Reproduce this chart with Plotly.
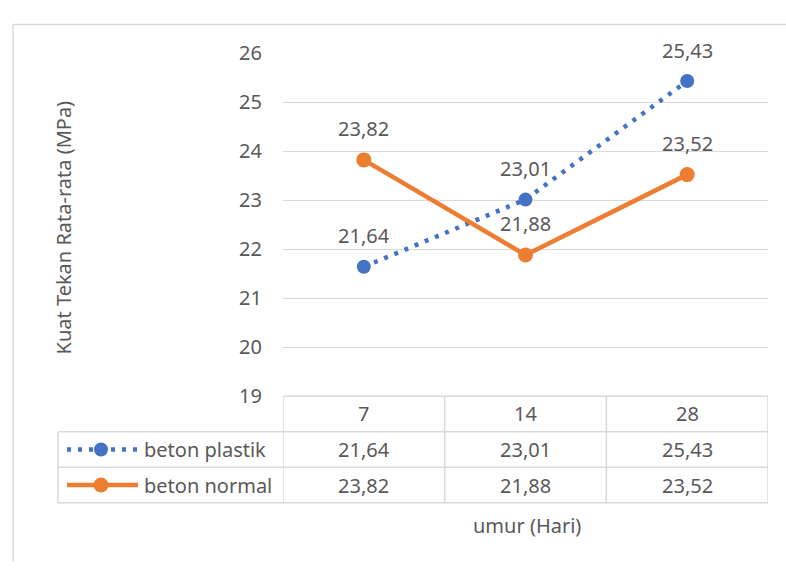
import plotly.graph_objects as go

# Umur benda uji (hari) dan kuat tekan rata-rata (MPa)
umur = ["7", "14", "28"]
beton_plastik = [21.64, 23.01, 25.43]
beton_normal = [23.82, 21.88, 23.52]
y_ticks = [19, 20, 21, 22, 23, 24, 25, 26]

W, H = 786, 574
BLUE = "#4472C4"
ORANGE = "#ED7D31"
GRID = "#D9D9D9"
TEXT = "#595959"
FONT = "Noto Sans"
FS = 20


def px(x):
    """pixel x -> paper fraction"""
    return x / W


def py(y):
    """pixel y (from top) -> paper fraction"""
    return 1 - y / H


def fmt(v):
    return f"{v:.2f}".replace(".", ",")


def label(x, y, text, xref="paper", yref="paper", **kw):
    d = dict(x=x, y=y, xref=xref, yref=yref, text=text, showarrow=False,
             xanchor="center", yanchor="middle",
             font=dict(size=FS, color=TEXT, family=FONT))
    d.update(kw)
    return d


xs = list(range(len(umur)))
series = [
    ("beton plastik", beton_plastik, BLUE, dict(width=4.5, dash="4px,7px"), 14),
    ("beton normal", beton_normal, ORANGE, dict(width=4.5), 15),
]

fig = go.Figure()
for name, vals, col, line, msize in series:
    fig.add_trace(go.Scatter(
        x=xs, y=vals, mode="lines+markers", name=name,
        line=dict(color=col, **line),
        marker=dict(color=col, size=msize, symbol="circle"),
        showlegend=False, xaxis="x", yaxis="y",
    ))

# data labels above each point
ann = []
for name, vals, col, line, msize in series:
    for i, v in enumerate(vals):
        ann.append(label(i, v, fmt(v), xref="x", yref="y", yshift=31))

# data table under the plot
row_top, row_h = 401, 37.3
rows = [row_top + k * row_h for k in range(4)]
tbl_left = 58
shapes = []
shapes.append(dict(type="line", xref="x", yref="paper", x0=-0.5, x1=2.5,
                   y0=py(rows[0]), y1=py(rows[0]), line=dict(color=GRID, width=1.5)))
for r in rows[1:]:
    shapes.append(dict(type="line", xref="paper", yref="paper", x0=px(tbl_left), x1=px(768),
                       y0=py(r), y1=py(r), line=dict(color=GRID, width=1.5)))
for b in [-0.5, 0.5, 1.5, 2.5]:
    shapes.append(dict(type="line", xref="x", yref="paper", x0=b, x1=b,
                       y0=py(rows[0]), y1=py(rows[3]), line=dict(color=GRID, width=1.5)))
shapes.append(dict(type="line", xref="paper", yref="paper", x0=px(tbl_left), x1=px(tbl_left),
                   y0=py(rows[1]), y1=py(rows[3]), line=dict(color=GRID, width=1.5)))
# chart frame (left and top edges)
shapes.append(dict(type="line", xref="paper", yref="paper", x0=px(13), x1=px(13),
                   y0=0, y1=py(11), line=dict(color=GRID, width=1.5), layer="below"))
shapes.append(dict(type="line", xref="paper", yref="paper", x0=px(13), x1=1,
                   y0=py(11), y1=py(11), line=dict(color=GRID, width=1.5), layer="below"))

for i, c in enumerate(umur):
    ann.append(label(i, py((rows[0] + rows[1]) / 2), c, xref="x"))
for k, (name, vals, col, line, msize) in enumerate(series):
    yc = (rows[k + 1] + rows[k + 2]) / 2
    for i, v in enumerate(vals):
        ann.append(label(i, py(yc), fmt(v), xref="x"))
    ann.append(label(px(142), py(yc), name, xanchor="left"))
    # legend key inside the table row
    fig.add_trace(go.Scatter(
        x=[67, 138], y=[yc, yc], mode="lines", line=dict(color=col, **line),
        showlegend=False, xaxis="x2", yaxis="y2", hoverinfo="skip"))
    fig.add_trace(go.Scatter(
        x=[101], y=[yc], mode="markers", marker=dict(color=col, size=msize),
        showlegend=False, xaxis="x2", yaxis="y2", hoverinfo="skip"))

ann.append(label(px(527), py(537), "umur (Hari)"))
ann.append(label(px(63), py(224), "Kuat Tekan Rata-rata (MPa)", textangle=-90))

fig.update_layout(
    width=W, height=H, margin=dict(l=0, r=0, t=0, b=0),
    paper_bgcolor="white", plot_bgcolor="rgba(0,0,0,0)",
    xaxis=dict(domain=[px(283), px(768)], range=[-0.5, 2.5], showgrid=False, zeroline=False,
               showticklabels=False, showline=False, fixedrange=True),
    yaxis=dict(domain=[py(401), py(41)], range=[19, 26], tickvals=y_ticks,
               ticktext=[str(t) for t in y_ticks], showgrid=True, gridcolor=GRID, gridwidth=1.3,
               zeroline=False, showline=False, ticklabelstandoff=20,
               tickfont=dict(size=FS, color=TEXT, family=FONT)),
    xaxis2=dict(domain=[0, 1], range=[0, W], visible=False, anchor="y2"),
    yaxis2=dict(domain=[0, 1], range=[H, 0], visible=False, anchor="x2"),
    shapes=shapes, annotations=ann,
)

fig.write_html("out.html")
